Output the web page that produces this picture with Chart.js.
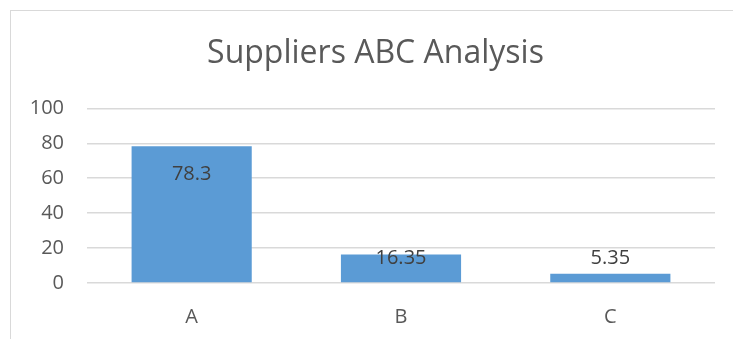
<!DOCTYPE html>
<html>
<head>
<meta charset="utf-8">
<script src="https://cdn.jsdelivr.net/npm/chart.js@4/dist/chart.umd.min.js"></script>
<style>
    html, body { margin: 0; padding: 0; background: #fff; overflow: hidden; }
    #frame { position: absolute; left: 10px; top: 10px; width: 740px; height: 400px; border: 1.5px solid #D9D9D9; }
    #wrap { position: absolute; left: 0; top: 0; width: 733px; height: 339px; }
</style>
</head>
<body>
<div id="frame"></div>
<div id="wrap"><canvas id="abcChart"></canvas></div>
<script>
const categorias = ['A', 'B', 'C'];
const porcentajes = [78.3, 16.35, 5.35];
const ticksY = [0, 20, 40, 60, 80, 100];

// etiquetas de datos estilo Excel (dentro del extremo, sube si la barra es corta)
const etiquetasPlugin = {
    id: 'etiquetas',
    afterDatasetsDraw(chart) {
        const ctx = chart.ctx;
        const yScale = chart.scales.y;
        const base = yScale.getPixelForValue(0);
        ctx.save();
        ctx.font = '20px "Open Sans"';
        ctx.fillStyle = '#404040';
        ctx.textAlign = 'center';
        ctx.textBaseline = 'middle';
        chart.getDatasetMeta(0).data.forEach((bar, i) => {
            const y = Math.min(bar.y + 28, base - 25);
            ctx.fillText(String(porcentajes[i]), bar.x, y);
        });
        ctx.restore();
    }
};

const ctx = document.getElementById('abcChart').getContext('2d');
const abcChart = new Chart(ctx, {
    type: 'bar',
    data: {
        labels: categorias,
        datasets: [{
            label: 'Suppliers',
            data: porcentajes,
            backgroundColor: '#5B9BD5',
            borderWidth: 0,
            categoryPercentage: 1,
            barPercentage: 0.574
        }]
    },
    options: {
        responsive: true,
        maintainAspectRatio: false,
        animation: false,
        layout: {
            padding: { left: 18, right: 0, top: 0, bottom: 0 }
        },
        plugins: {
            legend: { display: false },
            tooltip: { enabled: false },
            title: {
                display: true,
                text: 'Suppliers ABC Analysis',
                color: '#595959',
                font: { family: 'Open Sans', size: 32, weight: 'normal' },
                padding: { top: 35, bottom: 35 }
            }
        },
        scales: {
            x: {
                grid: { display: false, drawTicks: false },
                border: { display: false },
                ticks: {
                    color: '#595959',
                    font: { family: 'Open Sans', size: 20 },
                    padding: 22
                },
                afterFit: function (scale) {
                    scale.height = 56;
                }
            },
            y: {
                min: 0,
                max: 100,
                afterBuildTicks: function (scale) {
                    scale.ticks = ticksY.map(v => ({ value: v }));
                },
                grid: { color: '#D9D9D9', lineWidth: 1.5, drawTicks: false },
                border: { display: false },
                ticks: {
                    color: '#595959',
                    font: { family: 'Open Sans', size: 20 },
                    padding: 23
                },
                afterFit: function (scale) {
                    scale.width = 69;
                }
            },
            derecha: {
                position: 'right',
                min: 0,
                max: 100,
                grid: { display: false, drawTicks: false },
                border: { display: false },
                ticks: { display: false },
                afterFit: function (scale) {
                    scale.width = 18;
                }
            }
        }
    },
    plugins: [etiquetasPlugin]
});
</script>
</body>
</html>
